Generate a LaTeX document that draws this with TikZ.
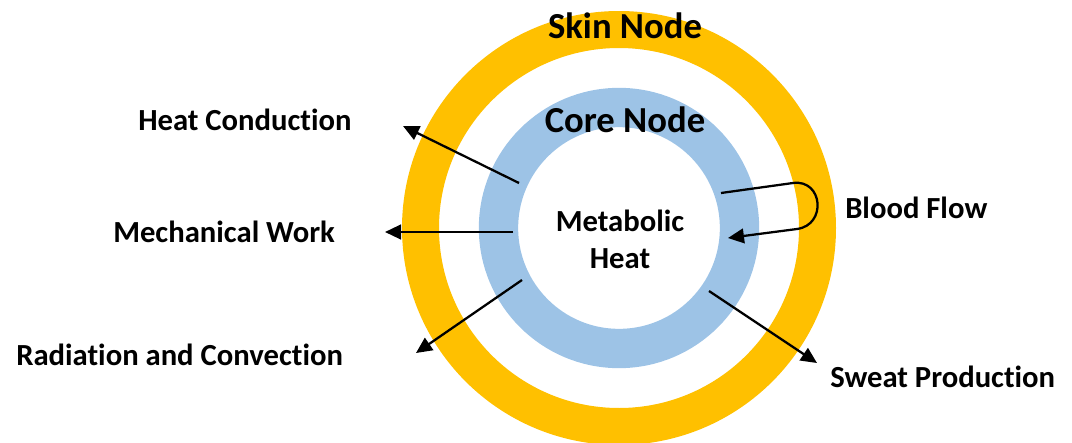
\documentclass[tikz,border=0pt]{standalone}
\usepackage{fontspec}
\setmainfont{Carlito}[Ligatures={NoCommon}]
\usetikzlibrary{arrows.meta}
\definecolor{skingold}{HTML}{FFC000}
\definecolor{coreblue}{HTML}{9DC3E6}

\begin{document}
\begin{tikzpicture}[x=0.75pt,y=-0.75pt,
  lbl/.style={inner sep=0pt,anchor=base west,font=\fontsize{23}{27.75}\selectfont\bfseries},
  big/.style={inner sep=0pt,anchor=base,font=\fontsize{27.5}{33}\selectfont\bfseries},
  flow/.style={line width=1.7pt,-{Triangle[length=12pt,width=11pt]}}]
\useasboundingbox (0,0) rectangle (1072,443);
% rings
\coordinate (ctr) at (619,228);
\draw[skingold,line width=27.75pt] (ctr) circle[radius=198.5];
\draw[coreblue,line width=29.5pt] (ctr) circle[radius=120.5];
% texts
\node[big] (skin) at (625,38) {Skin Node};
\node[big] (core) at (625,132) {Core Node};
\node[inner sep=0pt,align=center,font=\fontsize{23}{27.75}\selectfont\bfseries] (meta) at (620,239) {Metabolic\\Heat};
\node[lbl] (cond) at (138,130) {Heat Conduction};
\node[lbl] (work) at (113,242) {Mechanical Work};
\node[lbl] (rad) at (16,365) {Radiation and Convection};
\node[lbl] (blood) at (845,218) {Blood Flow};
\node[lbl] (sweat) at (830,387) {Sweat Production};
% arrow ends
\coordinate (condA) at (519,183);
\coordinate (condB) at (403,126);
\coordinate (workA) at (513,232);
\coordinate (workB) at (385,232);
\coordinate (radA) at (522,280);
\coordinate (radB) at (416,353);
\coordinate (swA) at (709,291);
\coordinate (swB) at (817,363);
\coordinate (bfA) at (721,193);
\coordinate (bfB) at (793,183);
\coordinate (bfC) at (797,229);
\coordinate (bfD) at (728,238);
\draw[flow] (condA) -- (condB);
\draw[flow] (workA) -- (workB);
\draw[flow] (radA) -- (radB);
\draw[flow] (swA) -- (swB);
\draw[flow] (bfA) -- (bfB) .. controls (823,179) and (827,225) .. (bfC) -- (bfD);
\end{tikzpicture}
\end{document}
